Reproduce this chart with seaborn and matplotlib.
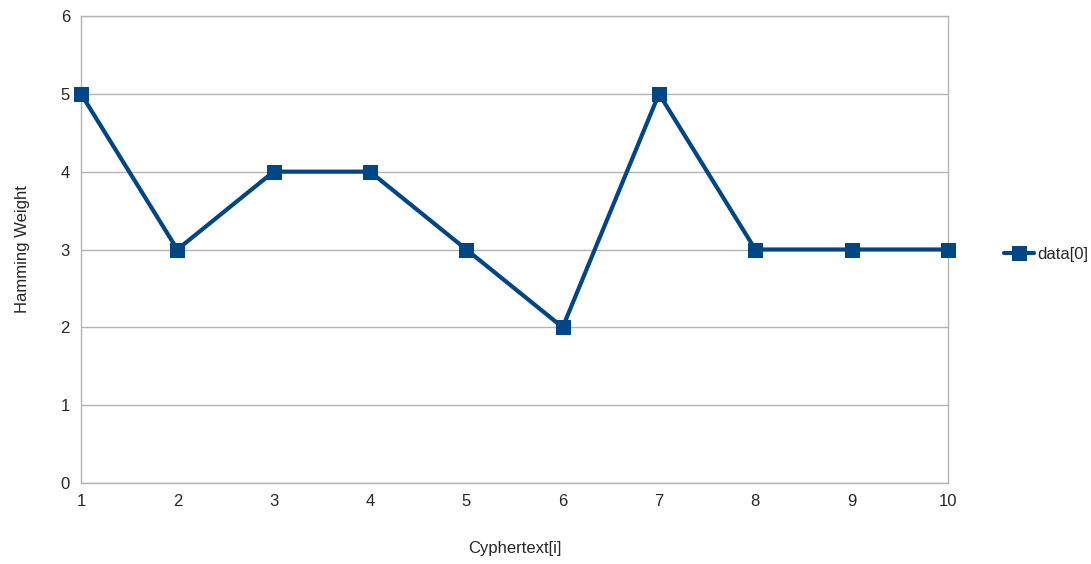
import matplotlib
matplotlib.use("Agg")
import matplotlib.pyplot as plt
import seaborn as sns
import pandas as pd

x_vals = [1, 2, 3, 4, 5, 6, 7, 8, 9, 10]
weights = [5, 3, 4, 4, 3, 2, 5, 3, 3, 3]

df = pd.DataFrame({"x": x_vals, "w": weights})

sns.set_style("white")
plt.rcParams['font.family'] = ['Liberation Sans', 'DejaVu Sans']

fig = plt.figure(figsize=(10.91, 5.64), dpi=100)
ax = fig.add_axes([81 / 1091, 81 / 564, 867 / 1091, 467 / 564])

sns.lineplot(data=df, x="x", y="w", ax=ax, color="#004586", linewidth=3,
             marker="s", markersize=10, markeredgecolor="#004586", label="data[0]",
             clip_on=False, zorder=5)

ax.set_xlim(1, 10)
ax.set_ylim(0, 6)
ax.set_xticks(x_vals)
ax.set_yticks(range(0, 7))
ax.yaxis.grid(True, color="#b3b3b3", linewidth=1)
ax.set_axisbelow(True)
for s in ax.spines.values():
    s.set_color("#b3b3b3")
    s.set_linewidth(1)
ax.tick_params(labelsize=12, length=0, pad=8)
ax.set_xlabel("Cyphertext[i]", fontsize=12, labelpad=23)
ax.set_ylabel("Hamming Weight", fontsize=12, labelpad=22)

ax.legend(loc="center left", bbox_to_anchor=(1.065, 0.49), frameon=False,
          fontsize=12, handlelength=1.8, handletextpad=0.2, borderaxespad=0,
          borderpad=0)

fig.savefig("out.png", dpi=100)
